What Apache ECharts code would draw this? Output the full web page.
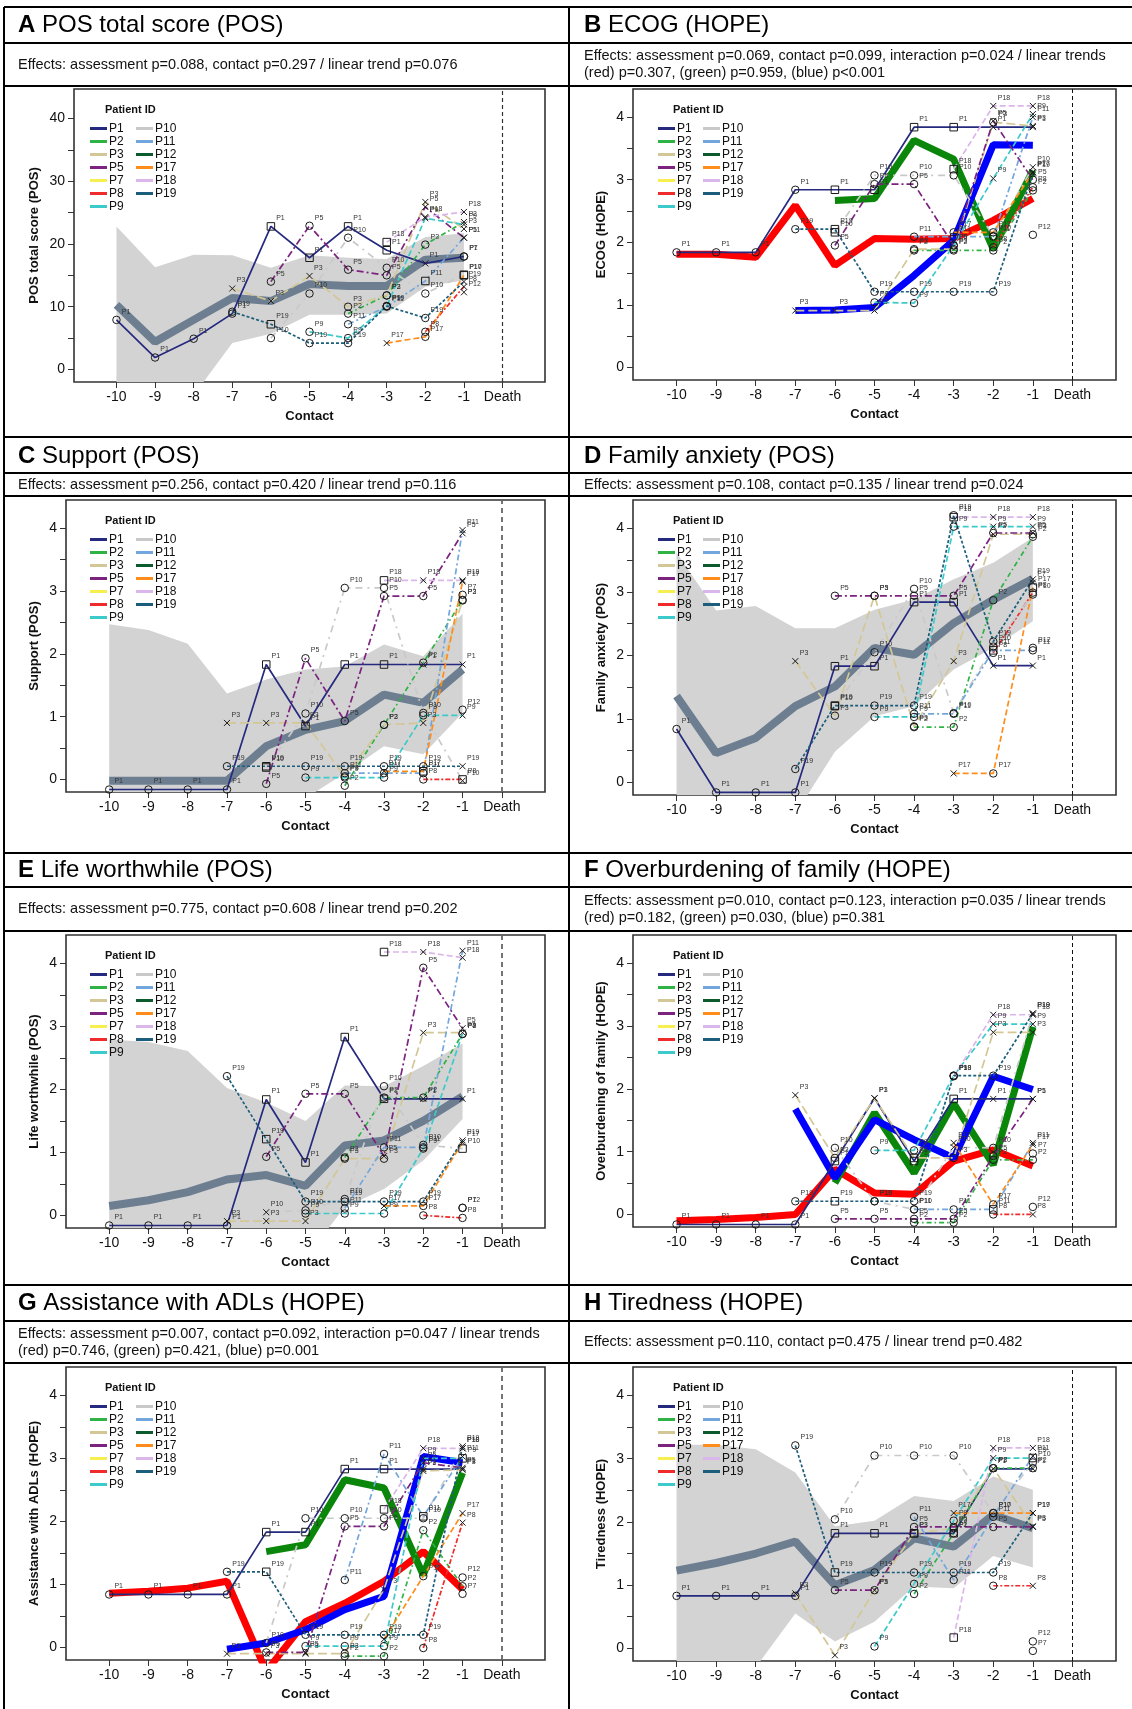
<!DOCTYPE html>
<html><head><meta charset="utf-8">
<script src="https://cdn.jsdelivr.net/npm/echarts@6/dist/echarts.min.js"></script>
<style>html,body{margin:0;padding:0;background:#fff}#c{width:1132px;height:1709px}</style>
</head><body><div id="c"></div>
<script>
const n = null;
const contacts = [-10,-9,-8,-7,-6,-5,-4,-3,-2,-1];
const xTickValues = [-10,-9,-8,-7,-6,-5,-4,-3,-2,-1,0];
const patients = ['P1','P2','P3','P5','P7','P8','P9','P10','P11','P12','P17','P18','P19'];
const legendCol1 = ['P1','P2','P3','P5','P7','P8','P9'];
const legendCol2 = ['P10','P11','P12','P17','P18','P19'];
const ticks04 = [0,0.5,1,1.5,2,2.5,3,3.5,4];
const labels04 = [0,1,2,3,4];
const ticks40 = [0,5,10,15,20,25,30,35,40];
const labels40 = [0,10,20,30,40];

// ---- A: POS total score ----
const A_mean = [10.3,4.4,7.9,11.4,10.9,13.6,13.3,13.3,17.5,17.8];
const A_lo = [-6,-6,-4.1,4.2,5.7,8.7,8.7,8.9,13.2,14.2];
const A_hi = [22.8,16.3,18.3,18.2,16.2,18.2,17.8,17.6,21.1,21.7];
const A_pts = {
 P1:[7.9,1.9,4.9,8.9,22.8,17.8,22.8,19.0,16.9,18.0],
 P2:[n,n,n,n,n,n,8.9,11.8,19.9,23.5],
 P3:[n,n,n,12.9,10.9,14.9,10.0,11.8,26.7,22.4],
 P5:[n,n,n,n,14.0,22.9,15.9,15.0,25.9,21.0],
 P7:[n,n,n,n,n,n,n,n,n,18.0],
 P8:[n,n,n,n,n,n,n,n,6.0,13.2],
 P9:[n,n,n,n,n,6.0,5.0,10.1,24.1,23.1],
 P10:[n,n,n,n,5.0,12.1,21.0,16.2,12.1,15.1],
 P11:[n,n,n,n,n,n,7.2,10.0,14.1,21.0],
 P12:[n,n,n,n,n,n,n,n,n,12.3],
 P17:[n,n,n,n,n,n,n,4.2,5.2,15.0],
 P18:[n,n,n,n,n,n,n,20.3,24.3,25.1],
 P19:[n,n,n,9.2,7.2,4.2,4.2,10.1,8.2,14.0]
};
const A_sym = {P1:'oooossssxo',P2:'......ooox',P3:'...xxxooxx',P5:'....ooooxx',P7:'.........o',P8:'........ox',P9:'.....oooxx',P10:'....ooooos',P11:'......oosx',P12:'.........x',P17:'.......xos',P18:'.......sxx',P19:'...osoooox'};

// ---- B: ECOG ----
const B_red = [1.81,1.81,1.76,2.59,1.63,2.06,2.05,2.06,2.35,2.70];
const B_green = [n,n,n,n,2.67,2.70,3.63,3.33,1.89,3.15];
const B_blue = [n,n,n,0.91,0.92,0.96,1.47,2.03,3.56,3.55];
const B_pts = {
 P1:[1.84,1.84,1.84,2.84,2.84,2.84,3.84,3.84,3.84,3.84],
 P2:[n,n,n,n,n,n,1.87,1.87,1.87,2.83],
 P3:[n,n,n,0.91,0.91,0.91,1.89,1.89,3.92,3.86],
 P5:[n,n,n,n,1.95,2.93,2.93,1.95,3.94,3.0],
 P7:[n,n,n,n,n,n,n,n,n,3.12],
 P8:[n,n,n,n,n,n,n,n,1.92,2.88],
 P9:[n,n,n,n,n,1.04,1.03,1.95,3.02,4.05],
 P10:[n,n,n,n,2.16,3.07,3.07,3.07,2.1,3.2],
 P11:[n,n,n,n,n,n,2.09,2.09,2.09,4.0],
 P12:[n,n,n,n,n,n,n,n,n,2.12],
 P17:[n,n,n,n,n,n,n,2.16,2.16,3.12],
 P18:[n,n,n,n,n,n,n,3.17,4.18,4.18],
 P19:[n,n,n,2.21,2.21,1.21,1.21,1.21,1.21,3.1]
};
const B_sym = {P1:'oooossssxx',P2:'......oooo',P3:'...xxxooox',P5:'....ooooxo',P7:'.........x',P8:'........oo',P9:'.....oooxx',P10:'....soooox',P11:'......ooox',P12:'.........o',P17:'.......oox',P18:'.......sxx',P19:'...osoooox'};

// ---- C: Support ----
const C_mean = [-0.02,-0.02,-0.02,-0.02,0.53,0.79,0.93,1.35,1.22,1.75];
const C_lo = [-0.6,-0.6,-0.6,-0.6,-0.5,-0.3,0.1,0.53,0.4,1.06];
const C_hi = [2.47,2.38,2.16,1.37,1.59,1.75,1.80,2.15,1.96,2.64];
const C_pts = {
 P1:[-0.16,-0.16,-0.16,-0.16,1.83,0.85,1.83,1.83,1.83,1.83],
 P2:[n,n,n,n,n,n,-0.1,0.87,1.86,2.86],
 P3:[n,n,n,0.9,0.9,0.9,0.05,0.87,0.9,2.85],
 P5:[n,n,n,n,-0.07,1.93,0.93,2.92,2.92,3.92],
 P7:[n,n,n,n,n,n,n,n,n,2.94],
 P8:[n,n,n,n,n,n,n,n,0.0,0.0],
 P9:[n,n,n,n,n,0.03,0.03,0.03,1.02,1.02],
 P10:[n,n,n,n,0.19,1.05,3.05,3.05,1.06,-0.02],
 P11:[n,n,n,n,n,n,0.1,0.1,0.1,3.97],
 P12:[n,n,n,n,n,n,n,n,n,1.11],
 P17:[n,n,n,n,n,n,n,0.13,0.13,3.15],
 P18:[n,n,n,n,n,n,n,3.17,3.17,3.17],
 P19:[n,n,n,0.21,0.21,0.21,0.21,0.21,0.21,0.21]
};
const C_sym = {P1:'oooossssxx',P2:'......oooo',P3:'...xxxooxo',P5:'....ooooox',P7:'.........o',P8:'........os',P9:'.....oooox',P10:'....soooox',P11:'......ooox',P12:'.........o',P17:'.......xsx',P18:'.......sxx',P19:'...osoooox'};

// ---- D: Family anxiety ----
const D_mean = [1.36,0.46,0.70,1.2,1.51,2.12,2.01,2.51,2.88,3.21];
const D_lo = [-0.6,-0.6,-0.6,-0.5,0.48,1.04,1.2,1.78,2.12,2.54];
const D_hi = [3.62,2.71,2.78,2.43,2.43,2.72,2.88,3.2,3.46,3.86];
const D_pts = {
 P1:[0.84,-0.16,-0.16,-0.16,1.83,1.83,2.84,2.84,1.84,1.84],
 P2:[n,n,n,n,n,n,0.87,0.87,2.87,3.87],
 P3:[n,n,n,1.91,1.05,2.94,0.88,1.91,3.91,3.91],
 P5:[n,n,n,n,2.94,2.94,2.94,2.94,3.93,3.93],
 P7:[n,n,n,n,n,n,n,n,n,3.15],
 P8:[n,n,n,n,n,n,n,n,2.04,2.99],
 P9:[n,n,n,n,n,1.03,1.03,4.03,4.03,4.03],
 P10:[n,n,n,n,1.2,2.05,3.05,1.09,2.14,2.96],
 P11:[n,n,n,n,n,n,1.08,1.08,2.08,2.08],
 P12:[n,n,n,n,n,n,n,n,n,2.12],
 P17:[n,n,n,n,n,n,n,0.14,0.14,3.07],
 P18:[n,n,n,n,n,n,n,4.18,4.18,4.18],
 P19:[n,n,n,0.21,1.21,1.21,1.21,4.21,2.22,3.2]
};
const D_sym = {P1:'oooossssxx',P2:'......oooo',P3:'...xoooxxo',P5:'....ooooox',P7:'.........x',P8:'........oo',P9:'.....oooxx',P10:'....sooooo',P11:'......ooso',P12:'.........o',P17:'.......xos',P18:'.......sxx',P19:'...osoooox'};

// ---- E: Life worthwhile ----
const E_mean = [0.15,0.24,0.37,0.57,0.64,0.47,1.11,1.19,1.5,1.89];
const E_lo = [-0.8,-0.8,-0.8,-0.8,-0.8,-0.67,0.13,0.42,0.87,1.53];
const E_hi = [2.79,2.75,2.61,2.02,1.79,1.50,2.06,2.05,2.37,2.73];
const E_pts = {
 P1:[-0.16,-0.16,-0.16,-0.16,1.84,0.84,2.83,1.85,1.85,1.85],
 P2:[n,n,n,n,n,n,0.92,1.87,1.87,2.88],
 P3:[n,n,n,-0.09,-0.09,-0.09,0.9,0.9,2.9,2.9],
 P5:[n,n,n,n,0.93,1.93,1.93,0.94,3.93,2.97],
 P7:[n,n,n,n,n,n,n,n,n,0.12],
 P8:[n,n,n,n,n,n,n,n,0.0,-0.04],
 P9:[n,n,n,n,n,0.03,0.03,0.03,1.06,2.88],
 P10:[n,n,n,n,0.05,0.08,0.26,2.05,1.12,1.06],
 P11:[n,n,n,n,n,n,0.11,1.08,1.08,4.2],
 P12:[n,n,n,n,n,n,n,n,n,0.12],
 P17:[n,n,n,n,n,n,n,0.15,0.15,1.16],
 P18:[n,n,n,n,n,n,n,4.18,4.18,4.09],
 P19:[n,n,n,2.21,1.21,0.22,0.22,0.22,0.22,1.19]
};
const E_sym = {P1:'oooossssxx',P2:'......oooo',P3:'...xxxooxx',P5:'....oooxox',P7:'.........o',P8:'........oo',P9:'.....ooooo',P10:'....xoooos',P11:'......ooox',P12:'.........o',P17:'.......xox',P18:'.......sxx',P19:'...osoooox'};

// ---- F: Overburdening of family ----
const F_red = [-0.1,-0.08,-0.05,0.0,0.72,0.34,0.32,0.85,1.03,0.77];
const F_green = [n,n,n,n,0.5,1.62,0.66,1.77,0.79,2.99];
const F_blue = [n,n,n,1.68,0.58,1.51,1.19,0.9,2.2,1.99];
const F_pts = {
 P1:[-0.16,-0.16,-0.16,-0.16,0.85,1.85,0.85,1.84,1.84,1.84],
 P2:[n,n,n,n,n,n,-0.13,-0.13,0.87,0.87],
 P3:[n,n,n,1.9,0.9,1.85,0.9,0.9,2.9,2.9],
 P5:[n,n,n,n,-0.07,-0.07,-0.07,-0.07,0.93,1.84],
 P7:[n,n,n,n,n,n,n,n,n,0.97],
 P8:[n,n,n,n,n,n,n,n,0.0,0.0],
 P9:[n,n,n,n,n,1.02,1.02,2.21,3.03,3.03],
 P10:[n,n,n,n,1.06,0.21,0.08,1.07,1.06,3.2],
 P11:[n,n,n,n,n,n,0.08,0.08,0.08,1.14],
 P12:[n,n,n,n,n,n,n,n,n,0.12],
 P17:[n,n,n,n,n,n,n,1.14,0.16,1.11],
 P18:[n,n,n,n,n,n,n,2.2,3.18,3.18],
 P19:[n,n,n,0.21,0.21,0.21,0.21,2.21,2.21,3.2]
};
const F_sym = {P1:'oooosxssxx',P2:'......oooo',P3:'...xoxsoxx',P5:'....ooooox',P7:'.........o',P8:'........ox',P9:'.....oooxx',P10:'....oooxox',P11:'......oosx',P12:'.........o',P17:'.......xox',P18:'.......oxx',P19:'...osoooox'};

// ---- G: Assistance with ADLs ----
const G_red = [0.86,0.89,0.94,1.05,-0.38,0.41,0.7,1.05,1.52,0.92];
const G_green = [n,n,n,n,1.52,1.63,2.66,2.53,1.15,2.77];
const G_blue = [n,n,n,-0.03,0.07,0.28,0.6,0.81,3.03,2.93];
const G_pts = {
 P1:[0.84,0.84,0.84,0.84,1.83,1.83,2.83,2.83,2.83,2.83],
 P2:[n,n,n,n,n,n,-0.14,-0.14,1.86,0.97],
 P3:[n,n,n,-0.1,-0.1,-0.1,-0.1,0.92,2.8,2.82],
 P5:[n,n,n,n,-0.08,-0.08,1.92,1.92,2.93,2.85],
 P7:[n,n,n,n,n,n,n,n,n,0.85],
 P8:[n,n,n,n,n,n,n,n,-0.01,1.98],
 P9:[n,n,n,n,n,0.02,0.02,0.02,3.0,3.0],
 P10:[n,n,n,n,0.07,2.05,2.05,2.05,2.05,3.16],
 P11:[n,n,n,n,n,n,1.07,3.07,2.08,3.03],
 P12:[n,n,n,n,n,n,n,n,n,1.11],
 P17:[n,n,n,n,n,n,n,0.13,1.13,2.13],
 P18:[n,n,n,n,n,n,n,2.19,3.16,3.16],
 P19:[n,n,n,1.2,1.2,0.2,0.2,0.2,0.2,3.19]
};
const G_sym = {P1:'oooossssxx',P2:'......oooo',P3:'...xxxoxxx',P5:'....oxooxx',P7:'.........o',P8:'........ox',P9:'.....oooxs',P10:'....ooooox',P11:'......oosx',P12:'.........o',P17:'.......xox',P18:'.......sxx',P19:'...osoooox'};

// ---- H: Tiredness ----
const H_mean = [1.23,1.35,1.5,1.69,1.0,1.24,1.74,1.61,2.11,1.9];
const H_lo = [-1.0,-1.0,-0.3,0.55,0.11,0.42,0.98,0.95,1.46,1.28];
const H_hi = [3.22,3.22,3.15,2.78,1.93,2.02,2.41,2.33,2.72,2.51];
const H_pts = {
 P1:[0.83,0.83,0.83,0.83,1.82,1.82,1.82,1.82,2.84,2.84],
 P2:[n,n,n,n,n,n,0.86,1.82,2.85,2.85],
 P3:[n,n,n,0.87,-0.11,0.92,1.82,1.9,2.85,1.93],
 P5:[n,n,n,n,0.92,0.92,1.92,1.92,1.92,1.92],
 P7:[n,n,n,n,n,n,n,n,n,-0.04],
 P8:[n,n,n,n,n,n,n,n,0.99,0.99],
 P9:[n,n,n,n,n,0.03,1.02,2.02,3.01,3.01],
 P10:[n,n,n,n,2.04,3.05,3.05,3.05,2.14,2.94],
 P11:[n,n,n,n,n,n,2.08,1.08,2.08,3.04],
 P12:[n,n,n,n,n,n,n,n,n,0.11],
 P17:[n,n,n,n,n,n,n,2.14,2.14,2.14],
 P18:[n,n,n,n,n,n,n,0.17,3.17,3.17],
 P19:[n,n,n,3.21,1.2,1.2,1.2,1.2,1.2,2.14]
};
const H_sym = {P1:'oooossssxx',P2:'......oooo',P3:'...xxxsoox',P5:'....ooooox',P7:'.........o',P8:'........ox',P9:'.....oooxs',P10:'....oooooo',P11:'......ooox',P12:'.........o',P17:'.......xox',P18:'.......sxx',P19:'...osoooox'};

// ---- styles ----
const FONT = '"Liberation Sans", Arial, Helvetica, sans-serif';
const COLORS = {P1:'#262a7e',P2:'#2fb344',P3:'#d3c795',P5:'#7b237f',P7:'#f7ef4f',P8:'#ef2b2b',P9:'#3ccaca',P10:'#c9c9c9',P11:'#72a6dc',P12:'#0d5a2e',P17:'#ff8d1c',P18:'#dbb6ea',P19:'#1c5d7b'};
const DASH = {P1:'solid',P2:[5,3,1.5,3],P3:[9,4],P5:[7,3,2,3],P7:[5,3],P8:[5,2,2,2],P9:[6,3],P10:[7,5,2,5],P11:[6,3,2,3],P12:[6,3],P17:[6,3],P18:[6,3],P19:[3,2]};
const SYMBOL = {o:'circle', s:'rect', x:'path://M0,0L6,6M6,0L0,6'};
const SYMSIZE = {o:7.5, s:7.5, x:6};

const ROWS = [
 {top:7, tb:43, eb:86, tc:25, ec:64.5},
 {top:437, tb:473, eb:496, tc:456.5, ec:484.5},
 {top:853, tb:887, eb:931, tc:870.5, ec:909},
 {top:1285, tb:1321, eb:1363, tc:1303, ec:1342}
];
const TEXT_LEFT = [18, 584];
const LEG1_LEFT = [90, 658];
const LEG2_LEFT = [136, 703];
const DEATH_STYLE = [{color:'#666', width:1.8, type:[5,4]}, {color:'#111', width:1, type:[4,3]}];

const PANELS = [
 {key:'A', title:'POS total score (POS)', effects:['Effects: assessment p=0.088, contact p=0.297 / linear trend p=0.076'], ylab:'POS total score (POS)', pts:A_pts, sym:A_sym, mean:A_mean, lo:A_lo, hi:A_hi, row:0, col:0, grid:{left:74, top:89, width:471, height:293}, ymin:-2.0, ymax:44.7, yt:ticks40, yl:labels40, ngap:33},
 {key:'B', title:'ECOG (HOPE)', effects:['Effects: assessment p=0.069, contact p=0.099, interaction p=0.024 / linear trends','(red) p=0.307, (green) p=0.959, (blue) p<0.001'], ylab:'ECOG (HOPE)', pts:B_pts, sym:B_sym, red:B_red, green:B_green, blue:B_blue, row:0, col:1, grid:{left:633, top:89, width:483, height:291}, ymin:-0.2, ymax:4.45, yt:ticks04, yl:labels04, ngap:25.5},
 {key:'C', title:'Support (POS)', effects:['Effects: assessment p=0.256, contact p=0.420 / linear trend p=0.116'], ylab:'Support (POS)', pts:C_pts, sym:C_sym, mean:C_mean, lo:C_lo, hi:C_hi, row:1, col:0, grid:{left:66, top:500, width:479, height:292}, ymin:-0.2, ymax:4.45, yt:ticks04, yl:labels04, ngap:25},
 {key:'D', title:'Family anxiety (POS)', effects:['Effects: assessment p=0.108, contact p=0.135 / linear trend p=0.024'], ylab:'Family anxiety (POS)', pts:D_pts, sym:D_sym, mean:D_mean, lo:D_lo, hi:D_hi, row:1, col:1, grid:{left:633, top:500, width:483, height:295}, ymin:-0.2, ymax:4.45, yt:ticks04, yl:labels04, ngap:25.5},
 {key:'E', title:'Life worthwhile (POS)', effects:['Effects: assessment p=0.775, contact p=0.608 / linear trend p=0.202'], ylab:'Life worthwhile (POS)', pts:E_pts, sym:E_sym, mean:E_mean, lo:E_lo, hi:E_hi, row:2, col:0, grid:{left:66, top:935, width:479, height:293}, ymin:-0.2, ymax:4.45, yt:ticks04, yl:labels04, ngap:25},
 {key:'F', title:'Overburdening of family (HOPE)', effects:['Effects: assessment p=0.010, contact p=0.123, interaction p=0.035 / linear trends','(red) p=0.182, (green) p=0.030, (blue) p=0.381'], ylab:'Overburdening of family (HOPE)', pts:F_pts, sym:F_sym, red:F_red, green:F_green, blue:F_blue, row:2, col:1, grid:{left:633, top:935, width:483, height:292}, ymin:-0.2, ymax:4.45, yt:ticks04, yl:labels04, ngap:25.5},
 {key:'G', title:'Assistance with ADLs (HOPE)', effects:['Effects: assessment p=0.007, contact p=0.092, interaction p=0.047 / linear trends','(red) p=0.746, (green) p=0.421, (blue) p=0.001'], ylab:'Assistance with ADLs (HOPE)', pts:G_pts, sym:G_sym, red:G_red, green:G_green, blue:G_blue, row:3, col:0, grid:{left:66, top:1367, width:479, height:293}, ymin:-0.2, ymax:4.45, yt:ticks04, yl:labels04, ngap:25},
 {key:'H', title:'Tiredness (HOPE)', effects:['Effects: assessment p=0.110, contact p=0.475 / linear trend p=0.482'], ylab:'Tiredness (HOPE)', pts:H_pts, sym:H_sym, mean:H_mean, lo:H_lo, hi:H_hi, row:3, col:1, grid:{left:633, top:1367, width:483, height:294}, ymin:-0.2, ymax:4.45, yt:ticks04, yl:labels04, ngap:25.5}
];

const grids = [], xAxes = [], yAxes = [], series = [], titles = [], legends = [], graphics = [];

function pairs(vals) {
  return contacts.map((c,k) => vals[k] == null ? null : [c, vals[k]]).filter(d => d);
}

PANELS.forEach((p, i) => {
  const r = ROWS[p.row];
  grids.push(Object.assign({show:true, borderColor:'#333', borderWidth:1.6, backgroundColor:'transparent', containLabel:false}, p.grid));
  xAxes.push({
    gridIndex:i, type:'value', min:-11.1, max:1.1,
    axisLine:{show:false, onZero:false}, splitLine:{show:false},
    axisTick:{show:true, length:6, customValues:xTickValues, lineStyle:{color:'#333', width:1}},
    axisLabel:{customValues:xTickValues, formatter:v => v === 0 ? 'Death' : String(v), fontSize:14, margin:8, color:'#111', fontFamily:FONT},
    name:'Contact', nameLocation:'middle', nameGap:28,
    nameTextStyle:{fontWeight:'bold', fontSize:13, color:'#111', fontFamily:FONT}
  });
  yAxes.push({
    gridIndex:i, type:'value', min:p.ymin, max:p.ymax,
    axisLine:{show:false, onZero:false}, splitLine:{show:false},
    axisTick:{show:true, length:6, customValues:p.yt, lineStyle:{color:'#333', width:1}},
    axisLabel:{customValues:p.yl, fontSize:14, margin:9, color:'#111', fontFamily:FONT},
    name:p.ylab, nameLocation:'middle', nameGap:p.ngap,
    nameTextStyle:{fontWeight:'bold', fontSize:13, color:'#111', fontFamily:FONT}
  });

  if (p.mean) {
    const lo = p.lo, hi = p.hi;
    series.push({
      type:'custom', xAxisIndex:i, yAxisIndex:i, z:1, silent:true, animation:false,
      data:[[contacts[0], hi[0]]],
      renderItem:(params, api) => {
        const top = contacts.map((c,k) => api.coord([c, hi[k]]));
        const bot = contacts.map((c,k) => api.coord([c, lo[k]])).reverse();
        const cs = params.coordSys;
        return {type:'polygon', shape:{points:top.concat(bot)}, style:{fill:'#d3d3d3'},
          clipPath:{type:'rect', shape:{x:cs.x, y:cs.y, width:cs.width, height:cs.height}}};
      }
    });
    series.push({type:'line', xAxisIndex:i, yAxisIndex:i, z:2, silent:true, animation:false,
      data:pairs(p.mean), symbol:'none', lineStyle:{color:'#6c7e90', width:8}});
  } else {
    [['red','#ff0000'],['green','#0a870a'],['blue','#0000ff']].forEach(([k,col]) => {
      series.push({type:'line', xAxisIndex:i, yAxisIndex:i, z:2, silent:true, animation:false,
        data:pairs(p[k]), symbol:'none', lineStyle:{color:col, width:7}});
    });
  }

  patients.forEach(pid => {
    const vals = p.pts[pid], s = p.sym[pid];
    const data = contacts.map((c,k) => vals[k] == null ? null :
      {value:[c, vals[k]], symbol:SYMBOL[s[k]] || 'circle', symbolSize:SYMSIZE[s[k]] || 7.5}).filter(d => d);
    const ser = {
      type:'line', name:pid, xAxisIndex:i, yAxisIndex:i, z:5, animation:false,
      data, showAllSymbol:true,
      lineStyle:{color:COLORS[pid], width:1.7, type:DASH[pid]},
      itemStyle:{color:'rgba(0,0,0,0)', borderColor:'#1a1a1a', borderWidth:1},
      label:{show:true, formatter:pid, fontSize:7, color:'#333', fontFamily:FONT, position:'right', distance:1, offset:[0,-8]},
      emphasis:{disabled:true}
    };
    if (pid === 'P1') {
      const ds = (p.key === 'A') ? {color:'#333', width:1.2, type:[4,3]} : DEATH_STYLE[p.col];
      ser.markLine = {silent:true, animation:false, symbol:['none','none'], label:{show:false},
        lineStyle:ds, data:[{xAxis:0}]};
    }
    series.push(ser);
  });

  // titles
  titles.push({left:TEXT_LEFT[p.col], top:r.tc - 14, padding:0,
    text:'{b|' + p.key + '} ' + p.title,
    textStyle:{fontSize:24, fontWeight:'normal', color:'#000', fontFamily:FONT, lineHeight:28,
      rich:{b:{fontSize:24, fontWeight:'bold', color:'#000', fontFamily:FONT, lineHeight:28}}}});
  titles.push({left:TEXT_LEFT[p.col], top:r.ec - p.effects.length * 17 / 2, padding:0,
    text:p.effects.join('\n'),
    textStyle:{fontSize:14.5, fontWeight:'normal', color:'#111', fontFamily:FONT, lineHeight:17}});
  titles.push({left:LEG1_LEFT[p.col] + 15, top:p.grid.top + 15, padding:0, text:'Patient ID',
    textStyle:{fontSize:11, fontWeight:'bold', color:'#111', fontFamily:FONT, lineHeight:12}});

  const legItem = name => ({name, icon:'rect', itemStyle:{color:COLORS[name], borderWidth:0, opacity:1}});
  [[legendCol1, LEG1_LEFT], [legendCol2, LEG2_LEFT]].forEach(([names, lefts]) => {
    legends.push({orient:'vertical', left:lefts[p.col], top:p.grid.top + 33, padding:0,
      itemWidth:17, itemHeight:3, itemGap:0, selectedMode:false,
      textStyle:{fontSize:12, lineHeight:13, color:'#111', fontFamily:FONT, padding:[0,0,0,-3]},
      data:names.map(legItem)});
  });
});

// panel borders
const hLines = [7,43,86,437,473,496,853,887,931,1285,1321,1363];
hLines.forEach(y => graphics.push({type:'line', silent:true, shape:{x1:4, y1:y, x2:1132, y2:y}, style:{stroke:'#000', lineWidth:2}}));
[4, 569].forEach(x => graphics.push({type:'line', silent:true, shape:{x1:x, y1:7, x2:x, y2:1709}, style:{stroke:'#000', lineWidth:2}}));

const chart = echarts.init(document.getElementById('c'), null, {renderer:'canvas'});
chart.setOption({
  animation:false,
  backgroundColor:'#ffffff',
  title:titles, legend:legends, grid:grids, xAxis:xAxes, yAxis:yAxes, series, graphic:graphics,
  tooltip:{show:false}
});
</script>
</body></html>
